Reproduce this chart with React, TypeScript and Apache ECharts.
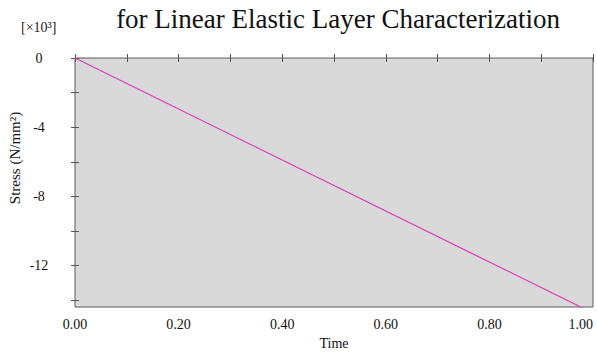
import React, { useEffect, useRef } from "react";
import * as echarts from "echarts";

// Stress response of the elastic layer over normalised time
const timeValues: number[] = [0, 1];
const stressValues: number[] = [0, -14750];

const xTickLabels: string[] = ["0.00", "0.20", "0.40", "0.60", "0.80", "1.00"];
const yLabelValues: number[] = [0, -4000, -8000, -12000];
const yTickValues: number[] = [0, -2000, -4000, -6000, -8000, -10000, -12000, -14000];

const titleText = "for Linear Elastic Layer Characterization";
const yAxisName = "Stress (N/mm\u00b2)";
const xAxisName = "Time";
const yScaleNote = "[\u00d710\u00b3]";

const FONT = "'Liberation Serif', 'Times New Roman', serif";

export default function App() {
  const ref = useRef<HTMLDivElement>(null);

  useEffect(() => {
    if (!ref.current) return;
    const chart = echarts.init(ref.current, undefined, { renderer: "svg" });

    const seriesData = timeValues.map((t, i) => [t, stressValues[i]]);

    const tickStyle = { show: true, inside: true, length: 4, lineStyle: { color: "#555", width: 1 } };

    chart.setOption({
      animation: false,
      backgroundColor: "#ffffff",
      textStyle: { fontFamily: FONT },
      title: {
        text: titleText,
        left: 333,
        top: 0,
        textAlign: "center",
        textStyle: { fontFamily: FONT, fontSize: 27, fontWeight: "normal", color: "#111" },
      },
      graphic: [
        {
          type: "text",
          left: 21,
          top: 20,
          style: { text: yScaleNote, font: `14px ${FONT}`, fill: "#222" },
        },
        {
          type: "text",
          x: 15,
          y: 158,
          rotation: Math.PI / 2,
          style: {
            text: yAxisName,
            font: `15px ${FONT}`,
            fill: "#111",
            align: "center",
            verticalAlign: "middle",
          },
        },
      ],
      grid: {
        left: 75,
        right: 4,
        top: 58,
        bottom: 53,
        outerBoundsMode: "none",
        show: true,
        backgroundColor: "#d9d9d9",
        borderColor: "#5a5a5a",
        borderWidth: 1,
      },
      xAxis: [
        {
          type: "value",
          min: 0,
          max: 1,
          interval: 0.2,
          name: xAxisName,
          nameLocation: "middle",
          nameGap: 29,
          nameTextStyle: { fontFamily: FONT, fontSize: 14, color: "#111" },
          axisLine: { show: false },
          splitLine: { show: false },
          axisTick: tickStyle,
          minorTick: { show: true, splitNumber: 2, length: 4, lineStyle: { color: "#555" } },
          axisLabel: {
            margin: 10,
            alignMaxLabel: "right",
            fontFamily: FONT,
            fontSize: 14,
            color: "#111",
            formatter: (v: number) => xTickLabels[Math.round(v / 0.2)] ?? v.toFixed(2),
          },
        },
        {
          type: "value",
          position: "top",
          min: 0,
          max: 1,
          interval: 0.2,
          axisLine: { show: false },
          splitLine: { show: false },
          axisTick: tickStyle,
          minorTick: { show: true, splitNumber: 2, length: 4, lineStyle: { color: "#555" } },
          axisLabel: { show: false },
        },
      ],
      yAxis: [
        {
          type: "value",
          min: -14400,
          max: 0,
          axisLine: { show: false },
          splitLine: { show: false },
          axisTick: { ...tickStyle, customValues: yTickValues },
          axisLabel: {
            customValues: yLabelValues,
            align: "center",
            margin: 36,
            fontFamily: FONT,
            fontSize: 14,
            color: "#111",
            formatter: (v: number) => String(Math.round(v / 1000)),
          },
        },
        {
          type: "value",
          position: "right",
          min: -14400,
          max: 0,
          axisLine: { show: false },
          splitLine: { show: false },
          axisTick: { ...tickStyle, customValues: yTickValues },
          axisLabel: { show: false },
        },
      ],
      series: [
        {
          type: "line",
          data: seriesData,
          showSymbol: false,
          symbol: "none",
          clip: true,
          lineStyle: { color: "#e03cbf", width: 1.2 },
        },
      ],
    });

    return () => chart.dispose();
  }, []);

  return (
    <div
      ref={ref}
      style={{ position: "fixed", left: 0, top: 0, width: 597, height: 360 }}
    />
  );
}
